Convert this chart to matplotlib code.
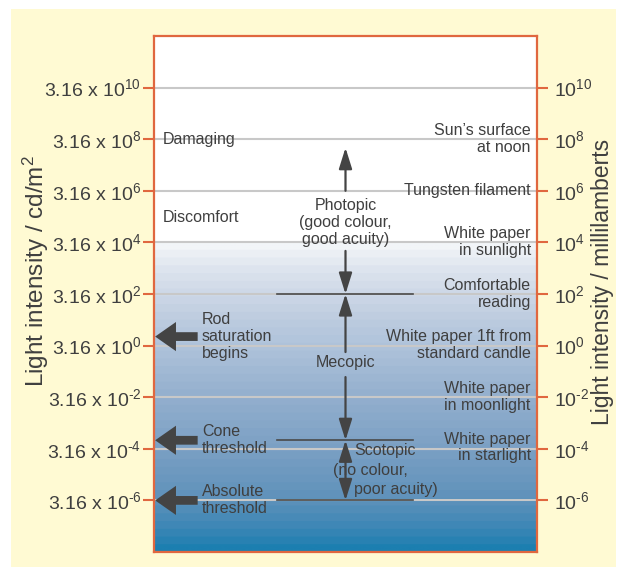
import numpy as np
import matplotlib
matplotlib.use('Agg')
from matplotlib import pyplot as plt
from matplotlib.colors import LinearSegmentedColormap
from matplotlib.patches import Rectangle

plt.rcParams['font.family'] = ['Liberation Sans', 'DejaVu Sans']
plt.rcParams['mathtext.fontset'] = 'custom'
plt.rcParams['mathtext.rm'] = 'Liberation Sans'
plt.rcParams['mathtext.default'] = 'regular'

# log10 of light intensity (millilamberts) for the tick rows
exponents = [10, 8, 6, 4, 2, 0, -2, -4, -6]
sup = [str(e) if e >= 0 else '\u2010' + str(-e) for e in exponents]
left_labels = ['3.16 x 10$^{%s}$' % s for s in sup]
right_labels = ['10$^{%s}$' % s for s in sup]

# light sources (right side), placed at their log10 level
sources = ['Sun\u2019s surface\nat noon', 'Tungsten filament', 'White paper\nin sunlight',
           'Comfortable\nreading', 'White paper 1ft from\nstandard candle',
           'White paper\nin moonlight', 'White paper\nin starlight']
source_levels = [8.0, 6.0, 4.03, 2.0, 0.03, -1.98, -3.95]

# thresholds marked with big arrows on the left
thresholds = ['Rod\nsaturation\nbegins', 'Cone\nthreshold', 'Absolute\nthreshold']
threshold_levels = [0.35, -3.67, -6.0]

# vision regime boundaries
photopic_low = 2.0
scotopic_high = -3.67
scotopic_low = -6.0

text_c = '#3f3f3f'
edge_c = '#e0673f'
arrow_c = '#444444'

fig = plt.figure(figsize=(6.26, 5.71), dpi=100)
fig.patch.set_facecolor('white')
fig.patches.append(Rectangle((11 / 626, 1 - 567 / 571), 605 / 626, 558 / 571,
                             transform=fig.transFigure, facecolor='#fffad3',
                             edgecolor='none', zorder=-5))

ax = fig.add_axes([154 / 626, 1 - 552 / 571, 383 / 626, 516 / 571])
ax.set_facecolor('white')

# banded blue gradient below the sunlight level
cmap = LinearSegmentedColormap.from_list('sky', [
    (0.0, '#1c7fb0'), (0.07, '#3d87b6'), (0.17, '#6092bb'), (0.33, '#7ba0c4'),
    (0.5, '#93afce'), (0.67, '#afc3db'), (0.75, '#bccbdf'), (0.83, '#cbd6e6'),
    (0.92, '#dde4ee'), (1.0, '#f2f5f8')], N=40)
grad = np.linspace(0, 1, 400).reshape(-1, 1)
ax.imshow(grad, extent=[0, 1, -8, 4], origin='lower', aspect='auto', cmap=cmap, zorder=0)
ax.set_xlim(0, 1)
ax.set_ylim(-8, 12)

for e in exponents:
    ax.axhline(e, color='#c8c8c8', lw=1.5, zorder=1)

for y in [photopic_low, scotopic_high, scotopic_low]:
    ax.plot([0.321, 0.676], [y, y], color='#4a4a4a', lw=1.2, zorder=2)

for s in ax.spines.values():
    s.set_color(edge_c)
    s.set_linewidth(1.6)
ax.set_xticks([])
ax.set_yticks(exponents)
ax.set_yticklabels(left_labels)
ax.tick_params(axis='y', length=8, width=1.5, color=edge_c, labelsize=14,
               labelcolor=text_c, pad=1)

ax2 = ax.twinx()
ax2.set_ylim(ax.get_ylim())
ax2.set_yticks(exponents)
ax2.set_yticklabels(right_labels)
ax2.tick_params(axis='y', length=8, width=1.5, color=edge_c, labelsize=14,
                labelcolor=text_c, pad=4)
for s in ax2.spines.values():
    s.set_visible(False)

fig.text(36 / 626, 1 - 271 / 571, 'Light intensity / cd/m$^{2}$', rotation=90,
         ha='center', va='center', fontsize=17.5, color=text_c)
fig.text(603 / 626, 1 - 282 / 571, 'Light intensity / millilamberts', rotation=90,
         ha='center', va='center', fontsize=16.5, color=text_c)

fs = 11.5
ax.text(0.023, 8.0, 'Damaging', ha='left', va='center', fontsize=fs, color=text_c, zorder=3)
ax.text(0.023, 4.95, 'Discomfort', ha='left', va='center', fontsize=fs, color=text_c, zorder=3)

for label, y in zip(sources, source_levels):
    ax.text(0.984, y, label, ha='right', va='center', fontsize=fs, color=text_c,
            linespacing=1.15, zorder=3)

for label, y in zip(thresholds, threshold_levels):
    ax.text(0.125, y, label, ha='left', va='center', fontsize=fs, color=text_c,
            linespacing=1.15, zorder=3)
    ax.annotate('', xy=(0.003, y), xytext=(0.114, y),
                arrowprops=dict(arrowstyle='simple,head_length=1.0,head_width=1.4,tail_width=0.42',
                                mutation_scale=15, color=arrow_c, lw=0,
                                shrinkA=0, shrinkB=0), zorder=4)

ax.text(0.5, 4.78, 'Photopic\n(good colour,\ngood acuity)', ha='center', va='center',
        fontsize=fs, color=text_c, linespacing=1.15, zorder=3)
ax.text(0.5, -0.64, 'Mecopic', ha='center', va='center', fontsize=fs, color=text_c, zorder=3)
ax.text(0.522, -4.08, 'Scotopic', ha='left', va='center', fontsize=fs, color=text_c, zorder=3)
ax.text(0.467, -4.83, '(no colour,', ha='left', va='center', fontsize=fs, color=text_c, zorder=3)
ax.text(0.522, -5.58, 'poor acuity)', ha='left', va='center', fontsize=fs, color=text_c, zorder=3)

vprops = dict(arrowstyle='-|>,head_length=0.8,head_width=0.25', mutation_scale=16,
              color=arrow_c, lw=1.6, shrinkA=0, shrinkB=0)
ax.annotate('', xy=(0.5, 7.67), xytext=(0.5, 6.0), arrowprops=vprops, zorder=4)
ax.annotate('', xy=(0.5, photopic_low), xytext=(0.5, 3.67), arrowprops=vprops, zorder=4)
ax.annotate('', xy=(0.5, photopic_low), xytext=(0.5, -0.25), arrowprops=vprops, zorder=4)
ax.annotate('', xy=(0.5, scotopic_high), xytext=(0.5, -1.22), arrowprops=vprops, zorder=4)
ax.annotate('', xy=(0.5, scotopic_low), xytext=(0.5, scotopic_high),
            arrowprops=dict(vprops, arrowstyle='<|-|>,head_length=0.8,head_width=0.25'), zorder=4)

plt.savefig('out.png', dpi=100, facecolor=fig.get_facecolor())
plt.close()
